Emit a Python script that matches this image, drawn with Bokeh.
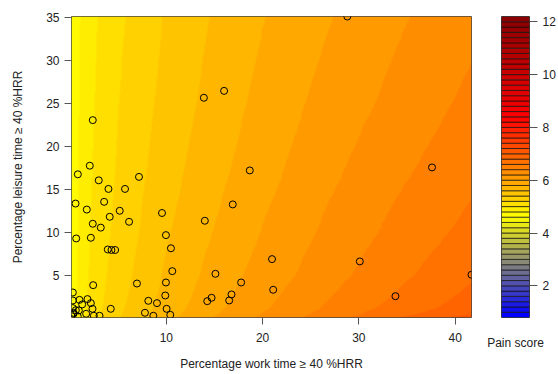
import numpy as np
from bokeh.plotting import figure
from bokeh.layouts import row
from bokeh.models import Range1d, FixedTicker, LinearColorMapper
from bokeh.embed import file_html
from bokeh.resources import INLINE

# ---- scatter data (percentage work time, percentage leisure time) ----
work_pct = [28.8, 16.0, 13.9, 2.36, 18.67, 37.6, 2.05, 0.81, 7.16, 2.98, 3.99, 5.71,
            16.9, 0.57, 3.54, 1.74, 5.16, 9.55, 4.12, 6.13, 14.0, 2.36, 3.19, 0.64,
            2.16, 9.96, 3.92, 4.3, 4.68, 10.48, 20.98, 30.1, 10.62, 15.1, 41.7, 2.4,
            6.95, 9.96, 17.77, 21.1, 33.8, 16.77, 14.7, 14.25, 16.53, 9.89, 8.13, 9.03,
            4.23, 10.03, 7.78, 8.65, 10.41, 0.29, 0.29, 0.98, 1.81, 2.16, 1.26, 2.33,
            0.91, 0.29, 1.67, 2.47, 3.06, 0.36, 0.8, 0.15, 0.6, 0.36]
leisure_pct = [35.15, 26.5, 25.7, 23.1, 17.25, 17.6, 17.8, 16.8, 16.5, 16.1, 15.1, 15.1,
               13.3, 13.4, 13.6, 12.7, 12.56, 12.3, 11.86, 11.28, 11.4, 11.05, 10.6, 9.34,
               9.42, 9.73, 8.06, 8.0, 8.0, 8.2, 6.94, 6.67, 5.54, 5.23, 5.12, 3.91,
               4.1, 4.22, 4.22, 3.37, 2.63, 2.83, 2.44, 2.05, 2.13, 2.71, 2.09, 1.82,
               1.16, 1.16, 0.7, 0.35, 0.46, 3.06, 2.13, 2.2, 2.29, 1.82, 1.67, 1.16,
               0.97, 1.24, 0.58, 0.35, 0.35, 0.58, 0.27, 0.3, 1.0, 0.7]

# ---- estimated pain-score surface (read from the contour colours) ----
grid_x = [0.15, 1, 2.5, 5, 10, 15, 20, 27, 34, 41.7]
grid_y = [0.15, 0.5, 1, 2, 5, 10, 17, 25, 35.15]
pain_grid = [
    [4.68, 4.91, 5.14, 5.38, 5.74, 6.01, 6.23, 6.51, 6.78, 7.08],
    [4.68, 4.91, 5.13, 5.37, 5.72, 5.98, 6.21, 6.48, 6.73, 6.98],
    [4.68, 4.90, 5.12, 5.36, 5.70, 5.96, 6.18, 6.45, 6.69, 6.92],
    [4.67, 4.90, 5.11, 5.34, 5.68, 5.93, 6.15, 6.41, 6.64, 6.87],
    [4.67, 4.88, 5.08, 5.31, 5.63, 5.88, 6.08, 6.33, 6.55, 6.77],
    [4.66, 4.86, 5.06, 5.27, 5.58, 5.81, 6.01, 6.25, 6.46, 6.66],
    [4.66, 4.85, 5.03, 5.23, 5.52, 5.74, 5.93, 6.16, 6.36, 6.55],
    [4.65, 4.83, 5.00, 5.20, 5.47, 5.68, 5.86, 6.08, 6.26, 6.45],
    [4.64, 4.81, 4.98, 5.16, 5.42, 5.62, 5.79, 5.99, 6.17, 6.34],
]

x_ticks = [10, 20, 30, 40]
y_ticks = [5, 10, 15, 20, 25, 30, 35]
key_ticks = [2, 4, 6, 8, 10, 12]
levels = np.round(np.arange(0.8, 12.2001, 0.2), 1)

x_lo, x_hi = 0.15, 41.7
y_lo, y_hi = 0.15, 35.15

# palette: blue -> yellow -> red -> darkred
anchors = [(0, 0, 255), (255, 255, 0), (255, 0, 0), (139, 0, 0)]
nb = len(levels) - 1
palette = []
for i in range(nb):
    t = i / (nb - 1) * 3
    k = min(int(t), 2)
    f = t - k
    c = [round(anchors[k][j] + (anchors[k + 1][j] - anchors[k][j]) * f) for j in range(3)]
    palette.append("#%02x%02x%02x" % tuple(c))

mapper = LinearColorMapper(palette=palette, low=levels[0], high=levels[-1])

# upsample surface for drawing
fx = np.linspace(x_lo, x_hi, 420)
fy = np.linspace(y_lo, y_hi, 320)
G = np.array(pain_grid)
rows_x = np.array([np.interp(fx, grid_x, G[r]) for r in range(G.shape[0])])
Z = np.array([np.interp(fy, grid_y, rows_x[:, c]) for c in range(len(fx))]).T

FONT = "Liberation Sans"
TXT = "#222222"
TICK = "#555555"

p = figure(width=480, height=374, output_backend="svg", toolbar_location=None,
           x_range=Range1d(x_lo, x_hi), y_range=Range1d(y_lo, y_hi),
           min_border_left=71, min_border_right=9, min_border_top=16, min_border_bottom=57)
p.image(image=[Z], x=x_lo, y=y_lo, dw=x_hi - x_lo, dh=y_hi - y_lo, color_mapper=mapper)
p.scatter(work_pct, leisure_pct, size=7, marker="circle", fill_color=None,
          line_color="black", line_width=1)
p.grid.visible = False
p.outline_line_color = "#444444"
p.outline_line_width = 1
p.background_fill_color = "white"

p.xaxis.ticker = FixedTicker(ticks=x_ticks)
p.yaxis.ticker = FixedTicker(ticks=y_ticks)
for ax in (p.xaxis[0], p.yaxis[0]):
    ax.axis_line_color = None
    ax.major_tick_line_color = TICK
    ax.major_tick_out = 7
    ax.major_tick_in = 0
    ax.minor_tick_line_color = None
    ax.major_label_text_font = FONT
    ax.major_label_text_font_size = "12px"
    ax.major_label_text_color = TXT
    ax.axis_label_text_font = FONT
    ax.axis_label_text_font_size = "12px"
    ax.axis_label_text_font_style = "normal"
    ax.axis_label_text_color = TXT
p.xaxis.axis_label = "Percentage work time \u2265 40 %HRR"
p.yaxis.axis_label = "Percentage leisure time \u2265 40 %HRR"
p.xaxis.major_label_standoff = 8
p.xaxis.axis_label_standoff = 12
p.yaxis.major_label_standoff = 5
p.yaxis.axis_label_standoff = 18

# ---- key (colour bar) ----
cb = figure(width=78, height=374, output_backend="svg", toolbar_location=None,
            x_range=Range1d(0, 1), y_range=Range1d(levels[0], levels[-1]),
            y_axis_location="right",
            min_border_left=21, min_border_right=28, min_border_top=16, min_border_bottom=57)
cb.quad(left=0, right=1, bottom=levels[:-1], top=levels[1:], fill_color=palette,
        line_color="#111111", line_width=0.7)
cb.grid.visible = False
cb.outline_line_color = "#555555"
cb.yaxis.ticker = FixedTicker(ticks=key_ticks)
ya = cb.yaxis[0]
ya.axis_line_color = None
ya.major_tick_line_color = TICK
ya.major_tick_out = 8
ya.major_tick_in = 0
ya.minor_tick_line_color = None
ya.major_label_text_font = FONT
ya.major_label_text_font_size = "12px"
ya.major_label_text_color = TXT
ya.major_label_standoff = 5
xa = cb.xaxis[0]
xa.ticker = FixedTicker(ticks=[])
xa.axis_line_color = None
xa.major_tick_line_color = None
xa.minor_tick_line_color = None
xa.major_tick_out = 0
xa.axis_label = "Pain score"
xa.axis_label_text_font = FONT
xa.axis_label_text_font_size = "12px"
xa.axis_label_text_font_style = "normal"
xa.axis_label_text_color = TXT
xa.axis_label_standoff = 18

layout = row(p, cb)
open("out.html", "w").write(file_html(layout, INLINE))
